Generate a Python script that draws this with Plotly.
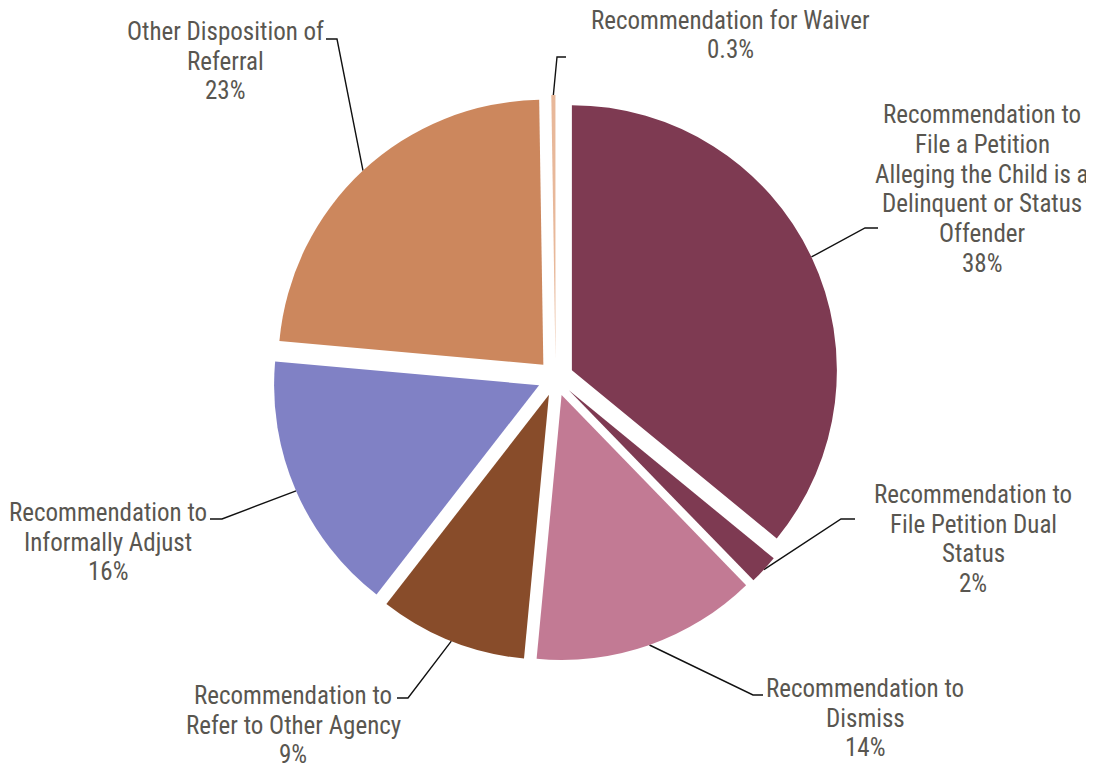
import math
import plotly.graph_objects as go

# ---- data ----
categories = [
    ["Recommendation to", "File a Petition", "Alleging the Child is a", "Delinquent or Status", "Offender"],
    ["Recommendation to", "File Petition Dual", "Status"],
    ["Recommendation to", "Dismiss"],
    ["Recommendation to", "Refer to Other Agency"],
    ["Recommendation to", "Informally Adjust"],
    ["Other Disposition of", "Referral"],
    ["Recommendation for Waiver"],
]
shares = [35.9, 1.8, 13.75, 9.0, 15.9, 23.3, 0.25]          # slice sizes as drawn
pct_labels = ["38%", "2%", "14%", "9%", "16%", "23%", "0.3%"]  # printed percentages
colors = ["#7E3A52", "#7E3A52", "#C27A94", "#884C2A", "#8081C5", "#CC875D", "#E8B89A"]

# page is shown with an 8px body margin; work in page pixel coordinates
OFF = 8
VW, VH = 1094, 769
W, H = VW - OFF, VH - OFF
PULL = 0.068
CX, CY, R = 555.6, 378.0, 265.0   # pie centre / radius on the page
FONT = "Liberation Sans Narrow, Roboto Condensed, Arial Narrow, sans-serif"
FSIZE = 25
LINE_H = 29.7
TXT = "#595650"

# pie domain giving that centre / radius
box = 2 * R * (1 + PULL)
fx, fy = CX - OFF, CY - OFF
DOM_X = [(fx - box / 2) / W, (fx + box / 2) / W]
DOM_Y = [1 - (fy + box / 2) / H, 1 - (fy - box / 2) / H]

# label block centres (page px) and leader elbow/end points
label_pos = [(982, 189), (973, 539), (865, 718), (293, 725), (108, 542), (225, 61), (730, 35)]
leader_pts = [
    [(865, 228), (878, 228)],
    [(841, 519), (855, 519)],
    [(753, 695), (763, 695)],
    [(408, 698), (397, 698)],
    [(222, 519), (210, 519)],
    [(337, 39), (326, 39)],
    [(557, 57), (566, 57)],
]

fig = go.Figure()
fig.add_trace(go.Pie(
    values=shares, labels=[str(i) for i in range(len(shares))],
    sort=False, direction="clockwise", rotation=0,
    pull=[PULL] * len(shares),
    marker=dict(colors=colors, line=dict(width=0)),
    textinfo="none", hoverinfo="skip", showlegend=False,
    domain=dict(x=DOM_X, y=DOM_Y),
))

total = sum(shares)
cum = 0.0
annotations = []
for i, v in enumerate(shares):
    mid = 2 * math.pi * (cum + v / 2) / total
    cum += v
    ux, uy = math.sin(mid), -math.cos(mid)
    sx = CX + R * (1 + PULL) * ux
    sy = CY + R * (1 + PULL) * uy
    pts = [(sx, sy)] + leader_pts[i]
    fig.add_trace(go.Scatter(
        x=[p[0] for p in pts], y=[p[1] for p in pts], mode="lines",
        line=dict(color="#111111", width=1.4), hoverinfo="skip", showlegend=False,
    ))
    lines = categories[i] + [pct_labels[i]]
    lx, ly = label_pos[i]
    n = len(lines)
    for k, t in enumerate(lines):
        annotations.append(dict(
            x=lx, y=ly + (k - (n - 1) / 2) * LINE_H, xref="x", yref="y",
            xanchor="center", yanchor="middle", text=t, showarrow=False,
            font=dict(family=FONT, size=FSIZE, color=TXT),
        ))

fig.update_layout(
    width=W, height=H, margin=dict(l=0, r=0, t=0, b=0),
    paper_bgcolor="white", plot_bgcolor="rgba(0,0,0,0)",
    xaxis=dict(range=[OFF, OFF + W], visible=False, fixedrange=True),
    yaxis=dict(range=[OFF + H, OFF], visible=False, fixedrange=True),
    annotations=annotations,
)
fig.write_html("out.html")
